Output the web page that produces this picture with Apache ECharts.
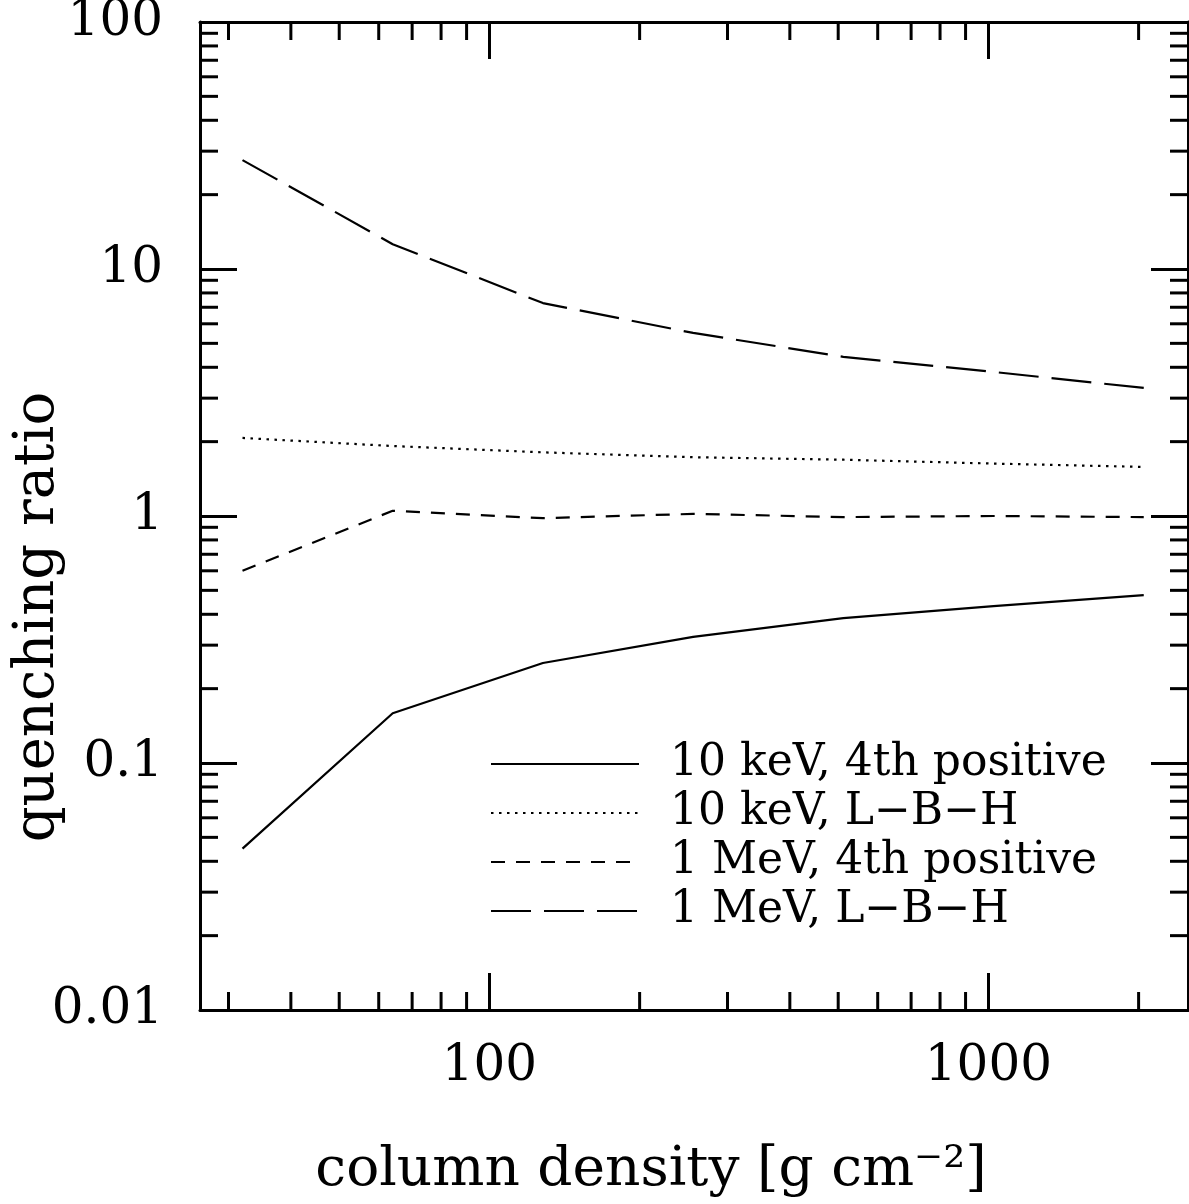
<!DOCTYPE html>
<html>
<head>
<meta charset="utf-8">
<script src="https://cdn.jsdelivr.net/npm/echarts@6/dist/echarts.min.js"></script>
<style>
html, body { margin: 0; padding: 0; background: #fff; }
#chart { width: 1189px; height: 1204px; }
</style>
</head>
<body>
<div id="chart"></div>
<script>
// column density [g cm^-2]
const columnDensity = [32, 64, 128, 256, 512, 1024, 2048];
// quenching ratios
const keV10FourthPositive = [0.045, 0.159, 0.254, 0.324, 0.386, 0.432, 0.478];
const keV10LBH = [2.07, 1.92, 1.81, 1.73, 1.69, 1.63, 1.58];
const MeV1FourthPositive = [0.60, 1.05, 0.98, 1.02, 0.99, 1.0, 0.99];
const MeV1LBH = [27.6, 12.6, 7.28, 5.51, 4.41, 3.83, 3.30];

const seriesNames = [
    "10 keV, 4th positive",
    "10 keV, L\u2212B\u2212H",
    "1 MeV, 4th positive",
    "1 MeV, L\u2212B\u2212H"
];

// minor tick values of the log axes
const xMinorTicks = [30, 40, 50, 60, 70, 80, 90, 200, 300, 400, 500, 600, 700, 800, 900, 2000];
const yMinorTicks = [
    0.02, 0.03, 0.04, 0.05, 0.06, 0.07, 0.08, 0.09,
    0.2, 0.3, 0.4, 0.5, 0.6, 0.7, 0.8, 0.9,
    2, 3, 4, 5, 6, 7, 8, 9,
    20, 30, 40, 50, 60, 70, 80, 90
];

const X_MIN = 26.3, X_MAX = 2512;
const Y_MIN = 0.01, Y_MAX = 100;
const FONT = "'DejaVu Serif', serif";
const MAJOR_LEN = 37, MINOR_LEN = 18;

function pairs(ys) {
    return columnDensity.map((x, i) => [x, ys[i]]);
}

function isPow10(v) {
    const e = Math.log10(v);
    return Math.abs(e - Math.round(e)) < 1e-6;
}

function tickLine(x1, y1, x2, y2) {
    return {
        type: "line",
        shape: { x1: x1, y1: y1, x2: x2, y2: y2 },
        style: { stroke: "#000", lineWidth: 3 }
    };
}

function baseAxis() {
    return {
        type: "log",
        logBase: 10,
        nameMoveOverlap: false,
        axisLine: { show: true, onZero: false, lineStyle: { color: "#000", width: 3 } },
        axisTick: { show: true, inside: true, length: MAJOR_LEN, lineStyle: { color: "#000", width: 3 } },
        splitLine: { show: false }
    };
}

function lineSeries(name, ys, dash) {
    return {
        name: name,
        type: "line",
        data: pairs(ys),
        symbol: "none",
        itemStyle: { color: "#000" },
        lineStyle: { color: "#000", width: 2.2, type: dash }
    };
}

const chart = echarts.init(document.getElementById("chart"));
chart.setOption({
    animation: false,
    backgroundColor: "#fff",
    grid: {
        left: 200, right: 1, top: 22, bottom: 194,
        containLabel: false,
        outerBoundsMode: "none"
    },
    legend: {
        data: seriesNames,
        orient: "vertical",
        left: 490,
        top: 739.5,
        padding: 0,
        itemGap: 0,
        itemWidth: 148,
        itemHeight: 20,
        itemStyle: { opacity: 0 },
        textStyle: {
            fontFamily: FONT,
            fontSize: 44,
            lineHeight: 49,
            color: "#000",
            padding: [0, 0, 0, 26]
        }
    },
    xAxis: [
        Object.assign(baseAxis(), {
            min: X_MIN,
            max: X_MAX,
            position: "bottom",
            name: "column density [g cm\u207B\u00B2]",
            nameLocation: "middle",
            nameGap: 133,
            nameTextStyle: {
                fontFamily: FONT,
                fontSize: 55,
                color: "#000",
                padding: [0, 86, 0, 0]
            },
            axisLabel: {
                show: true,
                showMinLabel: false,
                showMaxLabel: false,
                margin: 32,
                fontFamily: FONT,
                fontSize: 50,
                color: "#000",
                formatter: v => (isPow10(v) ? String(Math.round(v)) : "")
            }
        }),
        Object.assign(baseAxis(), {
            min: X_MIN,
            max: X_MAX,
            position: "top",
            axisLabel: { show: false }
        })
    ],
    yAxis: [
        Object.assign(baseAxis(), {
            min: Y_MIN,
            max: Y_MAX,
            position: "left",
            name: "quenching ratio",
            nameLocation: "middle",
            nameRotate: 90,
            nameGap: 134,
            nameTextStyle: {
                fontFamily: FONT,
                fontSize: 56,
                color: "#000",
                padding: [0, 202, 0, 0]
            },
            axisLabel: {
                show: true,
                margin: 37,
                fontFamily: FONT,
                fontSize: 50,
                color: "#000",
                formatter: v => {
                    const e = Math.round(Math.log10(v));
                    return e < 0 ? v.toFixed(-e) : String(Math.round(v));
                }
            }
        }),
        Object.assign(baseAxis(), {
            min: Y_MIN,
            max: Y_MAX,
            position: "right",
            axisLabel: { show: false }
        })
    ],
    series: [
        lineSeries(seriesNames[0], keV10FourthPositive, "solid"),
        lineSeries(seriesNames[1], keV10LBH, [2.5, 5.5]),
        lineSeries(seriesNames[2], MeV1FourthPositive, [14, 11]),
        lineSeries(seriesNames[3], MeV1LBH, [40, 13]),
        {
            type: "custom",
            silent: true,
            data: xMinorTicks.map(v => [v, 1]),
            renderItem: (params, api) => {
                const b = api.coord([api.value(0), Y_MIN]);
                const t = api.coord([api.value(0), Y_MAX]);
                return {
                    type: "group",
                    children: [
                        tickLine(b[0], b[1], b[0], b[1] - MINOR_LEN),
                        tickLine(t[0], t[1], t[0], t[1] + MINOR_LEN)
                    ]
                };
            }
        },
        {
            type: "custom",
            silent: true,
            data: yMinorTicks.map(v => [100, v]),
            renderItem: (params, api) => {
                const l = api.coord([X_MIN, api.value(1)]);
                const r = api.coord([X_MAX, api.value(1)]);
                return {
                    type: "group",
                    children: [
                        tickLine(l[0], l[1], l[0] + MINOR_LEN, l[1]),
                        tickLine(r[0], r[1], r[0] - MINOR_LEN, r[1])
                    ]
                };
            }
        }
    ]
});
</script>
</body>
</html>
